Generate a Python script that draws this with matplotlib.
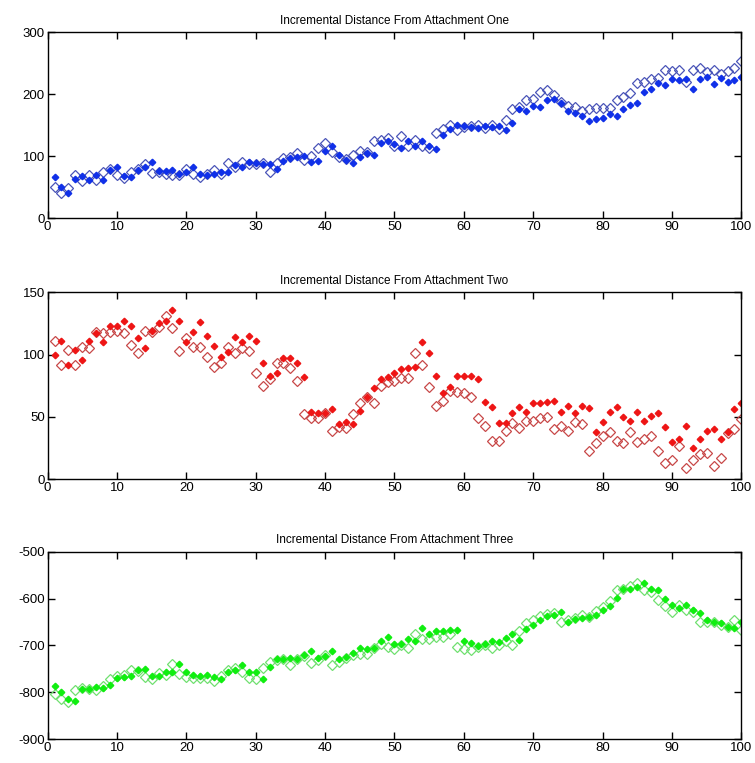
import matplotlib
matplotlib.use('Agg')
import matplotlib.pyplot as plt
import numpy as np

samples = np.arange(1, 101)

one_filled = [66, 50, 41, 64, 68, 62, 70, 62, 78, 82, 68, 66, 78, 83, 91, 76, 76, 77, 72, 74,
              82, 71, 70, 72, 75, 74, 86, 83, 90, 89, 87, 87, 79, 93, 97, 98, 101, 91, 93, 108,
              116, 102, 94, 89, 99, 105, 102, 121, 124, 120, 113, 124, 116, 125, 117, 111, 134, 144, 151, 148,
              147, 146, 149, 147, 149, 142, 154, 176, 172, 181, 179, 191, 192, 185, 172, 169, 165, 156, 160, 162,
              168, 165, 176, 183, 185, 203, 208, 218, 215, 224, 223, 224, 208, 224, 228, 217, 226, 219, 222, 228]
one_open = [50, 41, 48, 69, 60, 70, 62, 75, 80, 70, 65, 75, 80, 88, 73, 75, 72, 70, 70, 80,
            72, 67, 72, 78, 72, 89, 83, 91, 87, 88, 89, 75, 89, 97, 99, 105, 94, 101, 113, 121,
            106, 99, 95, 102, 109, 106, 124, 126, 129, 116, 132, 116, 126, 116, 113, 137, 144, 151, 142, 147,
            149, 151, 145, 151, 144, 159, 176, 180, 190, 192, 203, 206, 199, 188, 181, 179, 172, 176, 177, 177,
            177, 190, 195, 202, 218, 220, 224, 226, 239, 238, 239, 220, 239, 242, 235, 239, 233, 237, 242, 254]

two_filled = [100, 111, 92, 104, 96, 111, 117, 110, 123, 123, 127, 123, 113, 105, 119, 125, 127, 136, 127, 110,
              118, 126, 115, 107, 98, 102, 114, 110, 115, 111, 93, 83, 85, 97, 97, 93, 82, 54, 53, 53,
              56, 44, 46, 44, 55, 66, 73, 80, 82, 85, 88, 89, 90, 110, 101, 83, 69, 74, 83, 83,
              83, 80, 62, 58, 45, 45, 53, 58, 54, 61, 61, 62, 63, 54, 59, 53, 59, 57.5, 37.5, 46,
              54, 58, 50, 47, 54, 47, 51, 53, 42, 29.5, 32, 43, 25, 32, 38.5, 40, 32, 37.5, 56, 61]
two_open = [111, 92, 104, 92, 106, 105, 118, 117, 118, 119, 117, 108, 101, 119, 118, 122, 131, 121, 103, 113,
            106, 106, 98, 90, 93, 106, 101, 105, 103, 85, 75, 80, 93, 93, 89, 79, 52, 49, 49, 53,
            39, 42, 41, 52, 61, 66, 61, 75, 78, 79, 81, 81, 101, 92, 74, 59, 63, 71, 70, 69,
            66, 49, 43, 31, 31, 39, 45, 41, 47, 47, 49, 50, 40, 43, 38.5, 46, 44, 23, 29, 35,
            37.5, 31, 29, 37.5, 29.5, 32, 34.5, 23, 13, 15, 26.5, 9, 15, 20, 21, 10.5, 17, 37, 40, 48]

three_filled = [-787, -800, -815, -819, -792, -792, -789, -791, -784, -770, -767, -764, -753, -751, -766, -766, -757, -757, -739, -757,
                -762, -764, -762, -767, -772, -757, -753, -742, -757, -757, -771, -746, -728, -729, -727, -728, -721, -711, -727, -722,
                -712, -728, -724, -717, -706, -708, -706, -691, -681, -696, -696, -686, -691, -662, -676, -670, -670, -667, -667, -691,
                -694, -701, -696, -691, -692, -684, -676, -689, -665, -656, -645, -638, -634, -629, -649, -643, -641, -639, -634, -625,
                -616, -599, -580, -579, -575, -566, -580, -582, -600, -613, -621, -613, -625, -630, -646, -649, -651, -661, -663, -649]
three_open = [-803, -815, -820, -794, -791, -792, -794, -787, -772, -764, -762, -753, -755, -767, -771, -758, -762, -739, -760, -767,
              -770, -770, -770, -775, -764, -753, -748, -757, -770, -772, -749, -735, -731, -728, -742, -728, -722, -737, -731, -721,
              -742, -735, -727, -721, -719, -719, -706, -696, -703, -708, -698, -705, -676, -686, -686, -681, -681, -676, -703, -708,
              -710, -703, -698, -706, -698, -691, -698, -670, -653, -645, -638, -633, -630, -649, -646, -641, -634, -639, -627, -618,
              -606, -582, -580, -574, -566, -582, -586, -604, -616, -629, -614, -625, -629, -650, -649, -650, -657, -661, -646, -668]

titles = ['Incremental Distance From Attachment One',
          'Incremental Distance From Attachment Two',
          'Incremental Distance From Attachment Three']
y_limits = [(0, 300), (0, 150), (-900, -500)]
y_ticks = [[0, 100, 200, 300], [0, 50, 100, 150], [-900, -800, -700, -600, -500]]
filled_colors = ['#1030e8', '#ee1515', '#10ee10']
open_colors = ['#4a55b8', '#c84848', '#70e070']

plt.rcParams['font.family'] = ['Liberation Sans', 'DejaVu Sans']
plt.rcParams['axes.unicode_minus'] = False

fig = plt.figure(figsize=(7.55, 7.63), dpi=100)
boxes = [[0.063, 0.714, 0.919, 0.244],
         [0.063, 0.372, 0.919, 0.245],
         [0.063, 0.031, 0.919, 0.246]]

series = [(one_filled, one_open), (two_filled, two_open), (three_filled, three_open)]

for k in range(3):
    ax = fig.add_axes(boxes[k])
    filled, hollow = series[k]
    ax.plot(samples, hollow, linestyle='none', marker='D', markersize=5.0,
            markerfacecolor='none', markeredgecolor=open_colors[k], markeredgewidth=0.9)
    ax.plot(samples, filled, linestyle='none', marker='D', markersize=3.3,
            color=filled_colors[k])
    ax.set_xlim(0, 100)
    ax.set_ylim(*y_limits[k])
    ax.set_xticks(range(0, 101, 10))
    ax.set_yticks(y_ticks[k])
    ax.set_title(titles[k], fontsize=8.5, pad=6)
    ax.tick_params(direction='in', top=True, right=True, length=5, width=1,
                   labelsize=9.5, pad=2)
    for s in ax.spines.values():
        s.set_linewidth(1.0)

fig.savefig('out.png', dpi=100)
